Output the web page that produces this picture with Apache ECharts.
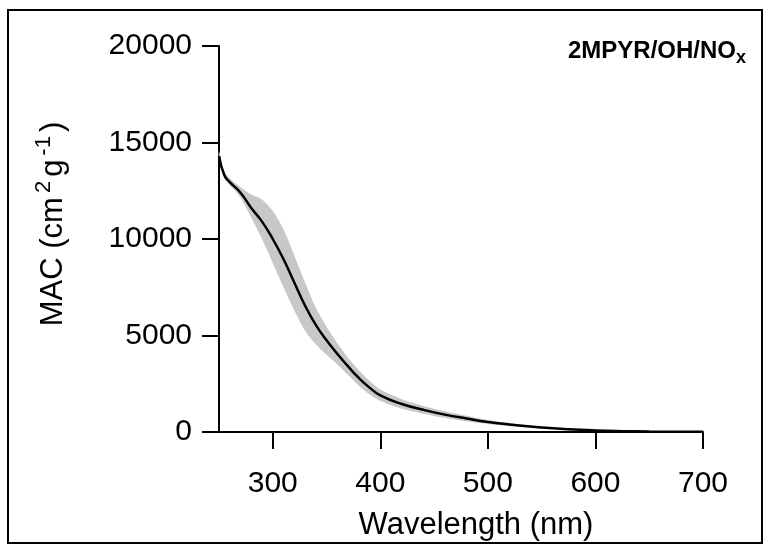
<!DOCTYPE html>
<html>
<head>
<meta charset="utf-8">
<script src="https://cdn.jsdelivr.net/npm/echarts@6/dist/echarts.min.js"></script>
<style>
  html, body { margin: 0; padding: 0; background: #fff; }
  #chart { width: 769px; height: 546px; }
</style>
</head>
<body>
<div id="chart"></div>
<script>
// wavelength (nm)
var wavelength = [250, 255, 260, 270, 280, 290, 300, 310, 320, 330, 340, 350, 360, 370, 380, 390, 400,
                  420, 440, 460, 480, 500, 525, 550, 575, 600, 625, 650, 675, 700];
// mean MAC (cm2 g-1)
var macMean = [14300, 13300, 12950, 12400, 11600, 10900, 10000, 8950, 7750, 6550, 5550, 4750, 4050, 3400, 2800, 2300, 1900,
               1450, 1150, 900, 700, 520, 360, 230, 140, 80, 45, 25, 15, 10];
// uncertainty band (above / below the mean)
var bandUp = [250, 200, 200, 300, 700, 1150, 1450, 1550, 1400, 1200, 900, 700, 550, 450, 400, 350, 300,
              250, 200, 170, 140, 100, 70, 45, 25, 10, 5, 3, 2, 1];
var bandDown = [200, 150, 150, 250, 500, 900, 1250, 1450, 1450, 1300, 1000, 750, 550, 450, 400, 350, 300,
                250, 200, 170, 140, 100, 70, 45, 25, 10, 5, 3, 2, 1];
var xTicks = [300, 400, 500, 600, 700];

var mean = [];
for (var i = 0; i < wavelength.length; i++) {
    mean.push([wavelength[i], macMean[i]]);
}

var chart = echarts.init(document.getElementById('chart'));
var font = 'Liberation Sans, Arial, sans-serif';
var option = {
    animation: false,
    backgroundColor: '#fff',
    grid: { left: 219, right: 66, top: 46, bottom: 111 },
    graphic: [
        {
            type: 'rect',
            shape: { x: 8, y: 10, width: 754, height: 533 },
            style: { fill: 'none', stroke: '#000', lineWidth: 2 }
        },
        {
            type: 'text',
            right: 23,
            top: 39,
            style: {
                text: '2MPYR/OH/NO{sub|x}',
                font: 'bold 24px ' + font,
                fill: '#000',
                rich: {
                    sub: { fontSize: 18, fontWeight: 'bold', fontFamily: font, verticalAlign: 'bottom', padding: [15, 0, 0, 0] }
                }
            }
        }
    ],
    xAxis: {
        type: 'value',
        min: 250,
        max: 700,
        name: 'Wavelength (nm)',
        nameLocation: 'middle',
        nameGap: 78,
        nameTextStyle: { fontSize: 31, fontFamily: font, color: '#000', padding: [0, 0, 0, 30] },
        axisLine: { show: true, lineStyle: { color: '#000', width: 2 } },
        axisTick: { show: true, length: 17, lineStyle: { color: '#000', width: 2 }, customValues: xTicks },
        axisLabel: { fontSize: 30, fontFamily: font, color: '#000', margin: 37, customValues: xTicks },
        splitLine: { show: false }
    },
    yAxis: {
        type: 'value',
        min: 0,
        max: 20000,
        interval: 5000,
        name: 'MAC (cm{sup|2}g{sup|-1})',
        nameLocation: 'middle',
        nameGap: 146,
        nameRotate: 90,
        nameTextStyle: {
            fontSize: 31, fontFamily: font, color: '#000', lineHeight: 40, padding: [0, 0, 0, 30],
            rich: {
                sup: { fontSize: 22, fontFamily: font, color: '#000', verticalAlign: 'top', lineHeight: 40, padding: [0, 4, 0, 4] }
            }
        },
        axisLine: { show: true, lineStyle: { color: '#000', width: 2 } },
        axisTick: { show: true, length: 17, lineStyle: { color: '#000', width: 2 } },
        axisLabel: { fontSize: 30, fontFamily: font, color: '#000', margin: 27, formatter: function (v) { return String(v); } },
        splitLine: { show: false }
    },
    series: [
        {
            // gray uncertainty band, drawn as one polygon from the scales
            type: 'custom',
            data: [0],
            silent: true,
            z: 1,
            renderItem: function (params, api) {
                var pts = [];
                for (var i = 0; i < wavelength.length; i++) {
                    pts.push(api.coord([wavelength[i], macMean[i] + bandUp[i]]));
                }
                for (var j = wavelength.length - 1; j >= 0; j--) {
                    pts.push(api.coord([wavelength[j], Math.max(0, macMean[j] - bandDown[j])]));
                }
                return {
                    type: 'polygon',
                    shape: { points: pts, smooth: 0.3 },
                    style: { fill: '#c8c8c8' }
                };
            }
        },
        {
            type: 'line',
            data: mean,
            smooth: true,
            symbol: 'none',
            lineStyle: { color: '#000', width: 2.5 },
            z: 5
        }
    ]
};
chart.setOption(option);
</script>
</body>
</html>
